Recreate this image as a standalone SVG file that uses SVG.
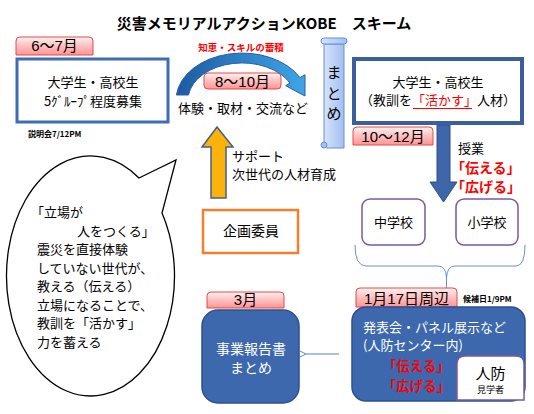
<svg xmlns="http://www.w3.org/2000/svg" width="534" height="414" viewBox="0 0 534 414">
<defs>
<linearGradient id="pink" x1="0" y1="0" x2="0" y2="1">
<stop offset="0" stop-color="#fff2f2"/>
<stop offset="0.45" stop-color="#ffc4c4"/>
<stop offset="1" stop-color="#ff9494"/>
</linearGradient>
<linearGradient id="curve" x1="0" y1="0" x2="1" y2="0">
<stop offset="0" stop-color="#1d5aa3"/>
<stop offset="1" stop-color="#3ea6e8"/>
</linearGradient>
<linearGradient id="scroll" x1="0" y1="0" x2="1" y2="0">
<stop offset="0" stop-color="#d6e3fb"/>
<stop offset="1" stop-color="#a3bff2"/>
</linearGradient>
<marker id="open" viewBox="0 0 10 10" refX="1" refY="5" markerWidth="8" markerHeight="8" orient="auto">
<path d="M9 1 L1 5 L9 9" fill="none" stroke="#5a7fc0" stroke-width="1.2"/>
</marker>
</defs>
<style>
text{font-family:"Liberation Sans","Noto Sans CJK JP",sans-serif;fill:#000}
.jp{font-family:"Noto Sans CJK JP",sans-serif}
.t13{font-size:13px}
.t14{font-size:14px}
.tab{fill:url(#pink);stroke:#e24a4a;stroke-width:1}
.tabt{font-size:15px;text-anchor:middle}
.white{fill:#fff}
.red{fill:#ff0000;font-weight:bold}
.bluebox{fill:#3d68ad;stroke:#2d5090;stroke-width:1.5}
.mid{text-anchor:middle}
</style>
<rect width="534" height="414" fill="#fff"/>
<text x="264" y="29" class="jp mid" style="font-size:15px;font-weight:bold">災害メモリアルアクションKOBE　スキーム</text>

<g id="connectors">
<path id="curved-arrow" d="M176.4 95 A66 47 0 0 1 300 77.6 L305 74.8 L305 96 L285.7 85.7 L290 83 A54 37 0 0 0 188.5 95 Z" fill="url(#curve)" stroke="#2a5f9f" stroke-width="1"/>
<path id="up-arrow" d="M217 127 L233 147 L226 147 L226 198 L211 198 L211 147 L202 147 Z" fill="#fbb30c" stroke="#40608f" stroke-width="1.5"/>
<path id="down-arrow" d="M437 125 L450 125 L450 182 L457 182 L443.5 202 L430 182 L437 182 Z" fill="#3f66a8" stroke="#2f4f8a" stroke-width="1"/>
<path id="brace" d="M355 245 Q355 266 366 266 L438 266 Q446 266 446.5 278 L446.5 288 M446.5 278 Q447 266 455 266 L516 266 Q525 266 525 245" fill="none" stroke="#6a8fd0" stroke-width="1"/>
<line id="report-arrow" x1="339" y1="354" x2="306" y2="354" stroke="#5a7fc0" stroke-width="1" marker-end="url(#open)"/>
</g>

<g id="tab-6-7">
<path class="tab" d="M16 55 V41 Q16 37 20 37 H89 Q93 37 93 41 V55 Z"/>
<text x="54.5" y="51" class="tabt">6～7月</text>
</g>

<g id="node-recruit">
<rect x="17" y="59" width="151" height="63" fill="#fff" stroke="#3f6db3" stroke-width="3"/>
<text x="93" y="87" class="jp t13 mid">大学生・高校生</text>
<text x="93" y="106" class="jp t13 mid">5ｸﾞﾙｰﾌﾟ程度募集</text>
</g>
<text x="28" y="137" class="jp" style="font-size:8px;font-weight:bold">説明会7/12PM</text>

<g id="label-chie">
<text x="241" y="51" class="jp mid" style="font-size:9.5px;font-weight:bold;fill:#ff0000">知恵・スキルの蓄積</text>
</g>
<g id="tab-8-10">
<rect class="tab" x="204" y="73" width="77" height="16" rx="4"/>
<text x="242.5" y="86.5" class="tabt">8～10月</text>
</g>
<text x="243" y="113" class="jp t13 mid">体験・取材・交流など</text>

<g id="node-matome-scroll">
<path d="M324 44 V145 Q324 148 327 148 H344 V44 Z" fill="url(#scroll)" stroke="#6a8fd0" stroke-width="1"/>
<rect x="321" y="38" width="26" height="6" rx="3" fill="url(#scroll)" stroke="#6a8fd0" stroke-width="1"/>
<circle cx="324" cy="145" r="3" fill="#a3bff2" stroke="#6a8fd0" stroke-width="1"/>
<text x="334" y="78" class="jp mid" style="font-size:15px">ま</text>
<text x="334" y="99" class="jp mid" style="font-size:15px">と</text>
<text x="334" y="119" class="jp mid" style="font-size:15px">め</text>
</g>

<g id="node-students-right">
<rect x="354" y="59" width="168" height="64" fill="#fff" stroke="#3a5e9e" stroke-width="4"/>
<text x="438" y="87" class="jp t13 mid">大学生・高校生</text>
<text x="438" y="105" class="jp t13 mid">（教訓を<tspan style="fill:#ff0000">「活かす」</tspan>人材）</text>
<line x1="413" y1="108.5" x2="472" y2="108.5" stroke="#ff0000" stroke-width="1"/>
</g>

<g id="tab-10-12">
<path class="tab" d="M353 145 V131 Q353 127 357 127 H429 Q433 127 433 131 V145 Z"/>
<text x="393" y="141.5" class="tabt">10～12月</text>
</g>
<text x="458" y="153" class="jp t13">授業</text>
<text x="451" y="173" class="jp t14 red">「伝える」</text>
<text x="451" y="192" class="jp t14 red">「広げる」</text>

<text x="232" y="161" class="jp t13">サポート</text>
<text x="232" y="179" class="jp t13">次世代の人材育成</text>

<g id="node-kikaku">
<rect x="203" y="210" width="95" height="43" fill="#fff" stroke="#f0802e" stroke-width="2.5"/>
<text x="251" y="236" class="jp t14 mid">企画委員</text>
</g>

<g id="node-chugakko">
<rect x="362" y="199" width="63" height="46" rx="8" fill="#fff" stroke="#7a5a9c" stroke-width="1.5"/>
<text x="393.5" y="227" class="jp t13 mid">中学校</text>
</g>
<g id="node-shogakko">
<rect x="456" y="199" width="62" height="46" rx="8" fill="#fff" stroke="#7a5a9c" stroke-width="1.5"/>
<text x="487" y="227" class="jp t13 mid">小学校</text>
</g>

<g id="node-bubble">
<path d="M139 178 L176 160 L162 213 A84 120 0 1 1 139 178 Z" fill="#fff" stroke="#000" stroke-width="1.3"/>
<g class="jp t13">
<text x="31" y="217">「立場が</text>
<text x="77" y="236">人をつくる」</text>
<text x="37" y="254">震災を直接体験</text>
<text x="37" y="273">していない世代が、</text>
<text x="37" y="291">教える（伝える）</text>
<text x="37" y="310">立場になることで、</text>
<text x="37" y="328">教訓を「活かす」</text>
<text x="37" y="347">力を蓄える</text>
</g>
</g>

<g id="tab-3">
<path class="tab" d="M207 308 V296 Q207 292 211 292 H280 Q284 292 284 296 V308 Z"/>
<text x="245.5" y="305" class="tabt">3月</text>
</g>
<g id="node-report">
<rect x="202" y="310" width="97" height="93" rx="16" class="bluebox"/>
<text x="251" y="354" class="jp t14 mid white">事業報告書</text>
<text x="251" y="373" class="jp t14 mid white">まとめ</text>
</g>

<g id="tab-jan17">
<path class="tab" d="M356 307 V292 Q356 288 360 288 H453 Q457 288 457 292 V307 Z"/>
<text x="406.5" y="303.5" class="tabt">1月17日周辺</text>
</g>
<text x="463" y="302" class="jp" style="font-size:8px;font-weight:bold">候補日1/9PM</text>

<g id="node-presentation">
<rect x="352" y="307" width="173" height="94" rx="14" class="bluebox"/>
<text x="363" y="332" class="jp t13 white">発表会・パネル展示など</text>
<text x="363" y="350" class="jp t13 white">(人防センター内)</text>
<text x="416.5" y="371" class="jp red mid" style="font-size:13.5px">「伝える」</text>
<text x="416.5" y="390.5" class="jp red mid" style="font-size:13.5px">「広げる」</text>
</g>
<g id="node-jinbo">
<path d="M457 400 V364 Q457 356 465 356 H516 Q524 356 524 364 V400 Z" fill="#fff" stroke="#7a5a9c" stroke-width="1.5"/>
<text x="490.5" y="379" class="jp mid" style="font-size:15px">人防</text>
<text x="490.5" y="393" class="jp mid" style="font-size:9px">見学者</text>
</g>
</svg>
